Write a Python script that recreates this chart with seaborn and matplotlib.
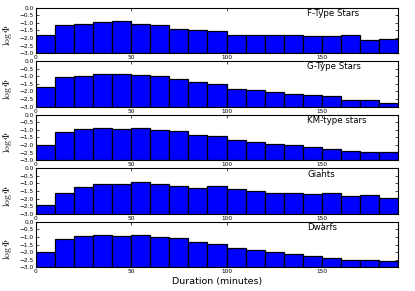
import matplotlib
matplotlib.use("Agg")
import matplotlib.pyplot as plt
import seaborn as sns
import pandas as pd

# bin centres (minutes), 10-minute bins from 0 to 190
duration_mid = [5, 15, 25, 35, 45, 55, 65, 75, 85, 95,
                105, 115, 125, 135, 145, 155, 165, 175, 185]

f_type = [-1.78, -1.17, -1.09, -0.95, -0.90, -1.06, -1.16, -1.39, -1.50, -1.57,
          -1.79, -1.83, -1.81, -1.79, -1.90, -1.88, -1.83, -2.16, -2.05]
g_type = [-1.72, -1.06, -0.96, -0.85, -0.82, -0.93, -0.99, -1.20, -1.38, -1.51,
          -1.83, -1.92, -2.01, -2.19, -2.26, -2.33, -2.53, -2.53, -2.73]
km_type = [-2.03, -1.15, -0.95, -0.88, -0.93, -0.88, -0.99, -1.10, -1.32, -1.43,
           -1.68, -1.81, -1.94, -1.99, -2.14, -2.23, -2.38, -2.43, -2.45]
giants = [-2.40, -1.62, -1.26, -1.01, -1.02, -0.90, -1.01, -1.14, -1.29, -1.20,
          -1.40, -1.47, -1.64, -1.60, -1.73, -1.64, -1.84, -1.78, -1.96]
dwarfs = [-2.02, -1.14, -0.96, -0.90, -0.94, -0.90, -1.01, -1.09, -1.33, -1.49,
          -1.73, -1.86, -1.99, -2.10, -2.23, -2.39, -2.49, -2.54, -2.60]

panel_titles = ["F-Type Stars", "G-Type Stars", "KM-type stars", "Giants", "Dwarfs"]
series = [f_type, g_type, km_type, giants, dwarfs]
x_ticks = [0, 50, 100, 150]
y_ticks = [-3.0, -2.5, -2.0, -1.5, -1.0, -0.5, 0.0]
y_floor = -3.0

sns.set_theme(style="ticks", rc={
    "axes.edgecolor": "black",
    "axes.linewidth": 0.8,
    "axes.labelcolor": "black",
    "text.color": "black",
    "xtick.color": "black",
    "ytick.color": "black",
    "xtick.direction": "in",
    "ytick.direction": "in",
    "xtick.top": True,
    "ytick.right": True,
    "xtick.major.size": 2.5,
    "ytick.major.size": 2.5,
    "xtick.major.width": 0.5,
    "ytick.major.width": 0.5,
    "xtick.major.pad": 1.5,
    "ytick.major.pad": 1.5,
    "xtick.labelsize": 4.2,
    "ytick.labelsize": 4.2,
    "mathtext.fontset": "cm",
})
plt.rcParams["font.family"] = ["DejaVu Sans"]

fig, axes = plt.subplots(5, 1, figsize=(4.15, 2.91), dpi=100)
fig.subplots_adjust(left=0.0867, right=0.959, top=0.974, bottom=0.0814, hspace=0.176)

for ax, vals, title in zip(axes, series, panel_titles):
    df = pd.DataFrame({"duration": duration_mid,
                       "height": [v - y_floor for v in vals]})
    sns.barplot(data=df, x="duration", y="height", native_scale=True,
                width=1.0, color="blue", saturation=1, edgecolor="black",
                linewidth=0.9, errorbar=None, bottom=y_floor, ax=ax)
    ax.set_xlim(0, 190)
    ax.set_ylim(-3.0, 0.0)
    ax.set_xticks(x_ticks)
    ax.set_xticklabels([str(t) for t in x_ticks])
    ax.set_yticks(y_ticks)
    ax.set_yticklabels([f"{t:.1f}".replace("-", "\u2212") for t in y_ticks])
    ax.set_xlabel("")
    ax.set_ylabel(r"$\log\Phi$", fontsize=7)
    ax.yaxis.set_label_coords(-0.062, 0.4)
    ax.text(0.749, 0.97, title, transform=ax.transAxes, ha="left", va="top",
            fontsize=6.2)
    for s in ax.spines.values():
        s.set_visible(True)

axes[-1].set_xlabel("Duration (minutes)", fontsize=6.8, labelpad=2)

fig.savefig("out.png", dpi=100)
